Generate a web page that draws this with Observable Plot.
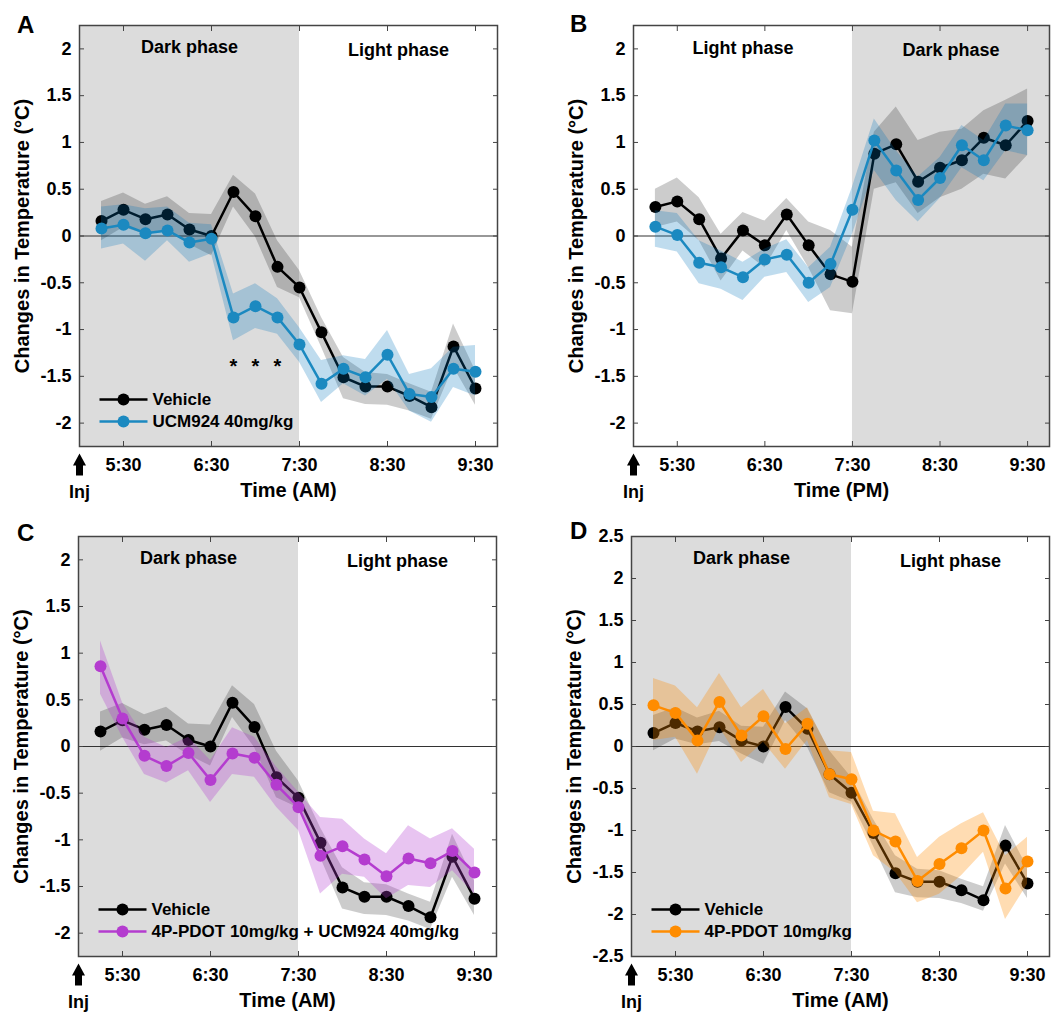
<!DOCTYPE html>
<html>
<head>
<meta charset="utf-8">
<script src="https://cdn.jsdelivr.net/npm/d3@7"></script>
<script src="https://cdn.jsdelivr.net/npm/@observablehq/plot@0.6"></script>
<style>
  html, body { margin: 0; padding: 0; background: #fff; }
  #page { position: relative; width: 1054px; height: 1014px; overflow: hidden; font-family: "Liberation Sans", Arial, sans-serif; }
  .panel { position: absolute; width: 527px; height: 507px; }
  .letter { position: absolute; font-size: 24px; line-height: 24px; font-weight: bold; color: #000; }
</style>
</head>
<body>
<div id="page"></div>
<script>
// ---- data (minutes after midnight) ----
const times = [315, 330, 345, 360, 375, 390, 405, 420, 435, 450, 465, 480, 495, 510, 525, 540, 555, 570];
const injectionTime = [300];
const xTickValues = [330, 390, 450, 510, 570];
const xTickLabels = ["5:30", "6:30", "7:30", "8:30", "9:30"];
const yTicksABC = [-2, -1.5, -1, -0.5, 0, 0.5, 1, 1.5, 2];
const yTicksD = [-2.5, -2, -1.5, -1, -0.5, 0, 0.5, 1, 1.5, 2, 2.5];
const sigTimes = [405, 420, 435];

// Vehicle, AM (panels A, C, D)
const vehAMMean  = [0.16, 0.28, 0.18, 0.23, 0.07, 0.00, 0.47, 0.21, -0.33, -0.55, -1.03, -1.51, -1.61, -1.61, -1.71, -1.83, -1.18, -1.63];
const vehAMUpper = [0.37, 0.46, 0.34, 0.42, 0.24, 0.23, 0.65, 0.45, -0.05, -0.37, -0.87, -1.30, -1.46, -1.48, -1.58, -1.67, -0.94, -1.44];
const vehAMLower = [-0.05, 0.09, 0.02, 0.06, -0.09, -0.21, 0.31, -0.01, -0.55, -0.66, -1.19, -1.74, -1.80, -1.81, -1.87, -1.96, -1.40, -1.81];

// UCM924 40mg/kg, AM (panel A)
const ucmAMMean  = [0.08, 0.12, 0.03, 0.06, -0.07, -0.03, -0.87, -0.75, -0.87, -1.16, -1.58, -1.42, -1.51, -1.27, -1.69, -1.72, -1.42, -1.45];
const ucmAMUpper = [0.31, 0.335, 0.29, 0.31, 0.135, 0.12, -0.62, -0.51, -0.67, -0.98, -1.33, -1.28, -1.32, -1.01, -1.48, -1.42, -1.19, -1.17];
const ucmAMLower = [-0.14, -0.085, -0.27, -0.05, -0.28, -0.19, -1.12, -0.99, -1.05, -1.35, -1.78, -1.58, -1.71, -1.53, -1.87, -1.99, -1.62, -1.71];

// Vehicle, PM (panel B)
const vehPMMean  = [0.31, 0.37, 0.18, -0.24, 0.06, -0.10, 0.23, -0.10, -0.41, -0.49, 0.88, 0.98, 0.58, 0.73, 0.81, 1.05, 0.97, 1.23];
const vehPMUpper = [0.50, 0.62, 0.41, 0.02, 0.25, 0.16, 0.40, 0.15, 0.06, -0.12, 1.11, 1.38, 1.02, 1.11, 1.14, 1.34, 1.45, 1.57];
const vehPMLower = [0.09, 0.15, -0.05, -0.48, -0.16, -0.34, 0.06, -0.34, -0.80, -0.83, 0.50, 0.57, 0.24, 0.41, 0.50, 0.66, 0.61, 0.86];

// UCM924 40mg/kg, PM (panel B)
const ucmPMMean  = [0.10, 0.01, -0.285, -0.335, -0.44, -0.25, -0.20, -0.50, -0.30, 0.28, 1.02, 0.70, 0.385, 0.62, 0.97, 0.81, 1.18, 1.13];
const ucmPMUpper = [0.27, 0.24, -0.05, -0.16, -0.28, -0.14, -0.04, -0.34, -0.12, 0.52, 1.25, 0.91, 0.63, 0.84, 1.18, 1.02, 1.41, 1.41];
const ucmPMLower = [-0.12, -0.17, -0.51, -0.57, -0.69, -0.44, -0.39, -0.71, -0.55, 0.02, 0.70, 0.38, 0.15, 0.40, 0.73, 0.59, 0.91, 0.86];

// 4P-PDOT 10mg/kg + UCM924 40mg/kg (panel C)
const comboMean  = [0.86, 0.30, -0.10, -0.21, -0.07, -0.36, -0.075, -0.12, -0.41, -0.65, -1.17, -1.07, -1.21, -1.39, -1.20, -1.25, -1.12, -1.35];
const comboUpper = [1.13, 0.47, 0.10, -0.01, 0.10, -0.15, 0.20, 0.10, -0.22, -0.49, -0.76, -0.78, -0.99, -1.15, -0.85, -0.99, -0.88, -1.10];
const comboLower = [0.56, 0.10, -0.30, -0.39, -0.26, -0.60, -0.30, -0.33, -0.65, -0.90, -1.58, -1.37, -1.40, -1.63, -1.49, -1.51, -1.33, -1.58];

// 4P-PDOT 10mg/kg (panel D)
const pdotMean  = [0.49, 0.40, 0.07, 0.53, 0.13, 0.36, -0.03, 0.27, -0.33, -0.39, -1.00, -1.13, -1.60, -1.40, -1.21, -1.00, -1.69, -1.37];
const pdotUpper = [0.81, 0.72, 0.46, 0.87, 0.46, 0.68, 0.27, 0.46, -0.05, -0.07, -0.77, -0.80, -1.32, -1.08, -0.92, -0.79, -1.30, -1.08];
const pdotLower = [0.07, 0.11, -0.33, 0.23, -0.19, 0.05, -0.27, 0.07, -0.61, -0.69, -1.30, -1.50, -1.86, -1.76, -1.54, -1.26, -2.06, -1.64];

// phases
const phasesAM = [{start: 300, end: 450, label: "Dark phase", dark: true}, {start: 450, end: 585, label: "Light phase", dark: false}];
const phasesPM = [{start: 300, end: 450, label: "Light phase", dark: false}, {start: 450, end: 585, label: "Dark phase", dark: true}];

const rows = (m, lo, hi) => times.map((t, i) => ({t, mean: m[i], lo: lo[i], hi: hi[i]}));

// ---- shapes ----
const arrowSymbol = {draw(ctx) {
  ctx.moveTo(0, 0); ctx.lineTo(6.5, 12); ctx.lineTo(3.5, 12); ctx.lineTo(3.5, 22);
  ctx.lineTo(-3.5, 22); ctx.lineTo(-3.5, 12); ctx.lineTo(-6.5, 12); ctx.closePath();
}};
const legendLine = {draw(ctx) { ctx.moveTo(-24, 0); ctx.lineTo(24, 0); }};

const FONT = '"Liberation Sans", Arial, sans-serif';
const bold = {fontWeight: "bold", fill: "#000"};

function legendEntry(label, color, dy) {
  return [
    Plot.dot([0], {frameAnchor: "bottom-left", dx: 44, dy, symbol: legendLine, stroke: color, strokeWidth: 2.5, fill: "none"}),
    Plot.dot([0], {frameAnchor: "bottom-left", dx: 44, dy, r: 6, fill: color}),
    Plot.text([label], {frameAnchor: "bottom-left", dx: 73, dy, textAnchor: "start", lineAnchor: "middle", fontSize: 17, ...bold})
  ];
}

function panel(cfg) {
  const veh = rows(cfg.veh[0], cfg.veh[1], cfg.veh[2]);
  const trt = rows(cfg.trt[0], cfg.trt[1], cfg.trt[2]);
  const marks = [
    Plot.rect(cfg.phases.filter(p => p.dark), {x1: "start", x2: "end", fill: "#dcdcdc"}),
    Plot.ruleY([0], {stroke: "#333", strokeWidth: 1.2}),
    Plot.areaY(veh, {x: "t", y1: "lo", y2: "hi", fill: "#000", fillOpacity: 0.2}),
    Plot.line(veh, {x: "t", y: "mean", stroke: "#000", strokeWidth: 2.5}),
    Plot.dot(veh, {x: "t", y: "mean", fill: "#000", r: 6}),
    Plot.areaY(trt, {x: "t", y1: "lo", y2: "hi", fill: cfg.band, fillOpacity: cfg.bandOpacity}),
    Plot.line(trt, {x: "t", y: "mean", stroke: cfg.color, strokeWidth: 2.5}),
    Plot.dot(trt, {x: "t", y: "mean", fill: cfg.color, r: 6}),
    // phase labels
    Plot.text([cfg.phases[0]], {x: d => (d.start + d.end) / 2, text: "label", frameAnchor: "top", lineAnchor: "middle", dy: cfg.phaseDy[0], fontSize: 18, ...bold}),
    Plot.text([cfg.phases[1]], {x: d => (d.start + d.end) / 2, text: "label", frameAnchor: "top", lineAnchor: "middle", dy: cfg.phaseDy[1], fontSize: 18, ...bold}),
    // axes
    Plot.axisX(xTickValues, {anchor: "bottom", tickSize: -5, tickPadding: 17, stroke: "#444", fill: "#000", fontSize: 18, fontWeight: "bold",
      tickFormat: d => xTickLabels[xTickValues.indexOf(d)], label: null}),
    Plot.axisX(xTickValues, {anchor: "top", tickSize: -5, stroke: "#444", tickFormat: () => "", label: null}),
    Plot.axisY(cfg.yTicks, {anchor: "left", tickSize: -5, tickPadding: 13, stroke: "#444", fill: "#000", fontSize: 18, fontWeight: "bold",
      tickFormat: d => String(d), label: null}),
    Plot.axisY(cfg.yTicks, {anchor: "right", tickSize: -5, stroke: "#444", tickFormat: () => "", label: null}),
    // axis titles
    Plot.text(["Changes in Temperature (°C)"], {frameAnchor: "left", dx: -57, rotate: -90, textAnchor: "middle", lineAnchor: "middle", fontSize: 20, ...bold}),
    Plot.text([cfg.xlabel], {frameAnchor: "bottom", dy: 44, lineAnchor: "middle", fontSize: 20, ...bold}),
    // injection arrow
    Plot.dot(injectionTime, {x: d => d, frameAnchor: "bottom", dy: 7, symbol: arrowSymbol, fill: "#000", stroke: "none"}),
    Plot.text(injectionTime, {x: d => d, frameAnchor: "bottom", dy: 46, lineAnchor: "middle", text: () => "Inj", fontSize: 18, ...bold}),
    Plot.frame({stroke: "#444", strokeWidth: 1.5})
  ];
  if (cfg.legend) {
    marks.push(...legendEntry("Vehicle", "#000", -47), ...legendEntry(cfg.legend, cfg.color, -25));
  }
  if (cfg.sig) {
    marks.push(Plot.text(sigTimes, {x: d => d, y: () => -1.35, text: () => "*", dy: 4, fontSize: 20, ...bold}));
  }
  return Plot.plot({
    width: 527, height: 507,
    marginLeft: cfg.m[0], marginRight: cfg.m[1], marginTop: cfg.m[2], marginBottom: cfg.m[3],
    x: {domain: [300, 585]},
    y: {domain: cfg.yDomain},
    style: {fontFamily: FONT, background: "transparent", overflow: "visible"},
    marks
  });
}

const panels = [
  {id: "A", left: 0, top: 0, letter: [17, 13], m: [79, 30, 25, 61], phases: phasesAM, phaseDy: [22, 25],
   veh: [vehAMMean, vehAMLower, vehAMUpper], trt: [ucmAMMean, ucmAMLower, ucmAMUpper],
   color: "#1b89c0", band: "#0072bd", bandOpacity: 0.25, legend: "UCM924 40mg/kg", xlabel: "Time (AM)",
   yDomain: [-2.25, 2.25], yTicks: yTicksABC, sig: true},
  {id: "B", left: 527, top: 0, letter: [43, 12], m: [106, 5, 25, 61], phases: phasesPM, phaseDy: [23, 25],
   veh: [vehPMMean, vehPMLower, vehPMUpper], trt: [ucmPMMean, ucmPMLower, ucmPMUpper],
   color: "#1b89c0", band: "#0072bd", bandOpacity: 0.25, legend: null, xlabel: "Time (PM)",
   yDomain: [-2.25, 2.25], yTicks: yTicksABC},
  {id: "C", left: 0, top: 507, letter: [17, 14], m: [78, 31, 29, 58], phases: phasesAM, phaseDy: [22, 25],
   veh: [vehAMMean, vehAMLower, vehAMUpper], trt: [comboMean, comboLower, comboUpper],
   color: "#b43ccf", band: "#b43ccf", bandOpacity: 0.3, legend: "4P-PDOT 10mg/kg + UCM924 40mg/kg", xlabel: "Time (AM)",
   yDomain: [-2.25, 2.25], yTicks: yTicksABC},
  {id: "D", left: 527, top: 507, letter: [43, 12], m: [104, 5, 29, 58], phases: phasesAM, phaseDy: [22, 25],
   veh: [vehAMMean, vehAMLower, vehAMUpper], trt: [pdotMean, pdotLower, pdotUpper],
   color: "#ff8c00", band: "#ff8c00", bandOpacity: 0.3, legend: "4P-PDOT 10mg/kg", xlabel: "Time (AM)",
   yDomain: [-2.5, 2.5], yTicks: yTicksD}
];

const page = document.getElementById("page");
for (const p of panels) {
  const div = document.createElement("div");
  div.className = "panel";
  div.style.left = p.left + "px";
  div.style.top = p.top + "px";
  div.appendChild(panel(p));
  const L = document.createElement("div");
  L.className = "letter";
  L.textContent = p.id;
  L.style.left = p.letter[0] + "px";
  L.style.top = p.letter[1] + "px";
  div.appendChild(L);
  page.appendChild(div);
}
</script>
</body>
</html>
